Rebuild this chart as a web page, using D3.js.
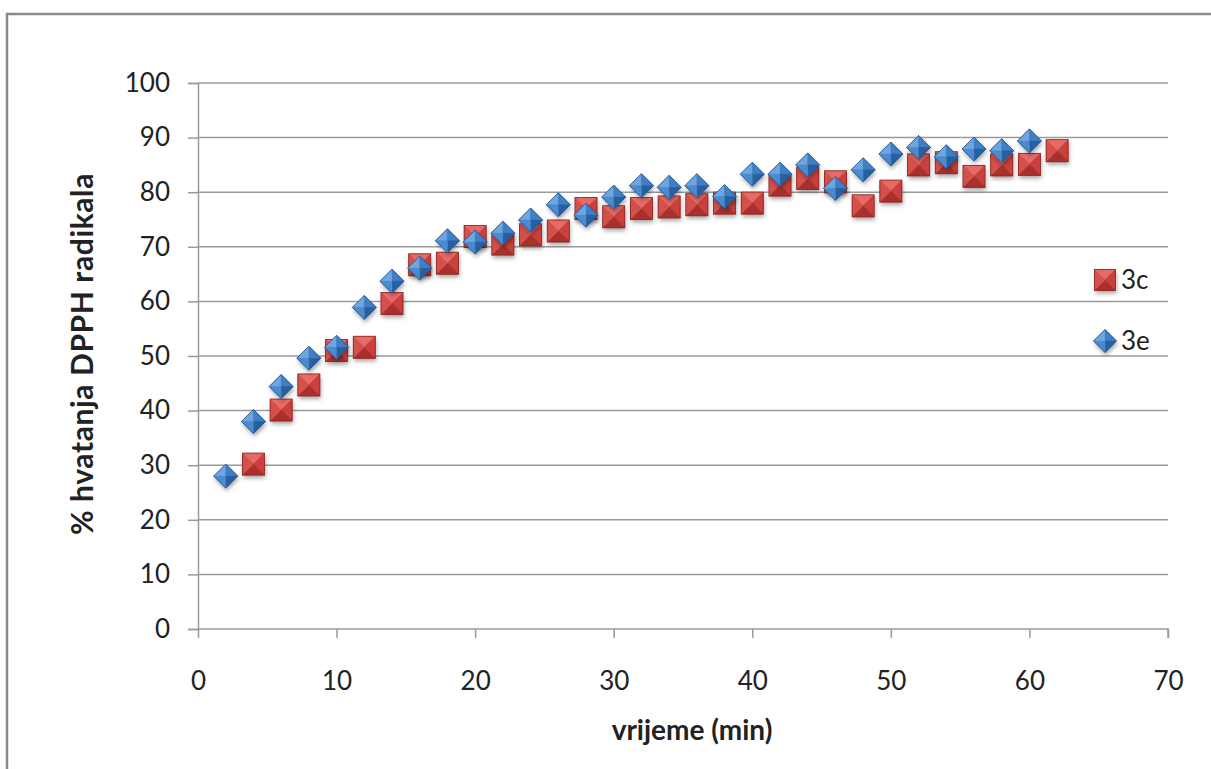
<!DOCTYPE html>
<html>
<head>
<meta charset="utf-8">
<script src="https://cdn.jsdelivr.net/npm/d3@7"></script>
<style>
  html, body { margin: 0; padding: 0; background: #fff; }
  svg { display: block; }
  text { font-family: Lato, "Open Sans", "Liberation Sans", sans-serif; fill: #222; }
</style>
</head>
<body>
<div id="chart"></div>
<script>
// podaci ocitani sa grafika
var x3c = [4, 6, 8, 10, 12, 14, 16, 18, 20, 22, 24, 26, 28, 30, 32, 34, 36, 38, 40, 42, 44, 46, 48, 50, 52, 54, 56, 58, 60, 62];
var y3c = [30.2, 40.1, 44.7, 51.0, 51.6, 59.6, 66.7, 67.0, 71.9, 70.5, 72.2, 72.9, 77.0, 75.5, 77.0, 77.3, 77.7, 78.0, 78.0, 81.3, 82.5, 81.9, 77.5, 80.2, 85.0, 85.4, 82.9, 85.0, 85.1, 87.6];
var x3e = [2, 4, 6, 8, 10, 12, 14, 16, 18, 20, 22, 24, 26, 28, 30, 32, 34, 36, 38, 40, 42, 44, 46, 48, 50, 52, 54, 56, 58, 60];
var y3e = [28.0, 38.0, 44.4, 49.6, 51.6, 58.9, 63.7, 66.1, 71.1, 70.9, 72.5, 74.9, 77.7, 75.8, 79.1, 81.2, 80.9, 81.2, 79.2, 83.3, 83.3, 85.0, 80.7, 84.1, 87.0, 88.2, 86.5, 87.9, 87.6, 89.4];
var xTicks = [0, 10, 20, 30, 40, 50, 60, 70];
var yTicks = [0, 10, 20, 30, 40, 50, 60, 70, 80, 90, 100];
var seriesNames = ["3c", "3e"];

var W = 1211, H = 769;
var svg = d3.select("#chart").append("svg").attr("width", W).attr("height", H);

var defs = svg.append("defs");
var f = defs.append("filter").attr("id", "sh").attr("x", "-50%").attr("y", "-50%").attr("width", "200%").attr("height", "200%");
f.append("feDropShadow").attr("dx", 1).attr("dy", 3).attr("stdDeviation", 2).attr("flood-color", "#000").attr("flood-opacity", 0.35);

// okvir
svg.append("path").attr("d", "M7," + H + " L7,14 L" + W + ",14")
  .attr("fill", "none").attr("stroke", "#8a8a8a").attr("stroke-width", 2.5);

var x = d3.scaleLinear().domain([0, 70]).range([198, 1168]);
var y = d3.scaleLinear().domain([0, 100]).range([629, 83]);

// mreza
svg.append("g").selectAll("line").data(yTicks.filter(function(d) { return d > 0; })).enter()
  .append("line")
  .attr("x1", x(0)).attr("x2", x(70))
  .attr("y1", function(d) { return y(d); }).attr("y2", function(d) { return y(d); })
  .attr("stroke", "#9a9a9a").attr("stroke-width", 1.5);

// y osa
var yAxis = svg.append("g").attr("transform", "translate(" + x(0) + ",0)")
  .call(d3.axisLeft(y).tickValues(yTicks).tickSize(10).tickPadding(18));
// x osa
var xAxis = svg.append("g").attr("transform", "translate(0," + y(0) + ")")
  .call(d3.axisBottom(x).tickValues(xTicks).tickSize(9).tickPadding(34));
[yAxis, xAxis].forEach(function(a) {
  a.select(".domain").attr("stroke", "#9a9a9a").attr("stroke-width", 1.5);
  a.selectAll(".tick line").attr("stroke", "#9a9a9a").attr("stroke-width", 1.5);
  a.selectAll(".tick text").attr("font-size", 26).attr("fill", "#222")
    .attr("font-family", "Lato, 'Open Sans', sans-serif");
});
xAxis.select(".domain").attr("d", "M" + x(0) + ",0H" + x(70) + "V9");

// naslovi osa
svg.append("text").attr("x", 692).attr("y", 740).attr("text-anchor", "middle")
  .attr("font-size", 28).attr("font-weight", "bold").text("vrijeme (min)");
svg.append("text").attr("transform", "translate(93,354) rotate(-90)").attr("text-anchor", "middle")
  .attr("font-size", 30).attr("font-weight", "bold").attr("letter-spacing", 0.6)
  .text("% hvatanja DPPH radikala");

// markeri
function square(g, s) {
  var h = s / 2;
  var cols = ["#e86a66", "#c9403c", "#a8302d", "#d4504b"]; // gore, desno, dole, lijevo
  var pts = [
    [[-h, -h], [h, -h], [0, 0]],
    [[h, -h], [h, h], [0, 0]],
    [[h, h], [-h, h], [0, 0]],
    [[-h, h], [-h, -h], [0, 0]]
  ];
  g.append("rect").attr("x", -h).attr("y", -h).attr("width", s).attr("height", s)
    .attr("fill", "#c0393a").attr("filter", "url(#sh)");
  pts.forEach(function(p, i) {
    g.append("path").attr("d", "M" + p.map(function(q) { return q.join(","); }).join("L") + "Z")
      .attr("fill", cols[i]).attr("stroke", cols[i]).attr("stroke-width", 0.3);
  });
  g.append("rect").attr("x", -h).attr("y", -h).attr("width", s).attr("height", s)
    .attr("fill", "none").attr("stroke", "#8e2423").attr("stroke-width", 0.8);
}
function diamond(g, s) {
  var h = s / 2;
  var cols = ["#6fa6e0", "#3f7fc4", "#285f9f", "#4a8bd0"]; // gore-lijevo, gore-desno, dole-desno, dole-lijevo
  var pts = [
    [[-h, 0], [0, -h], [0, 0]],
    [[0, -h], [h, 0], [0, 0]],
    [[h, 0], [0, h], [0, 0]],
    [[0, h], [-h, 0], [0, 0]]
  ];
  g.append("path").attr("d", "M0," + (-h) + "L" + h + ",0L0," + h + "L" + (-h) + ",0Z")
    .attr("fill", "#3a78bd").attr("filter", "url(#sh)");
  pts.forEach(function(p, i) {
    g.append("path").attr("d", "M" + p.map(function(q) { return q.join(","); }).join("L") + "Z")
      .attr("fill", cols[i]).attr("stroke", cols[i]).attr("stroke-width", 0.3);
  });
  g.append("path").attr("d", "M0," + (-h) + "L" + h + ",0L0," + h + "L" + (-h) + ",0Z")
    .attr("fill", "none").attr("stroke", "#24518a").attr("stroke-width", 0.8);
}

var data3c = x3c.map(function(d, i) { return { x: d, y: y3c[i] }; });
var data3e = x3e.map(function(d, i) { return { x: d, y: y3e[i] }; });

svg.append("g").selectAll("g").data(data3c).enter().append("g")
  .attr("transform", function(d) { return "translate(" + x(d.x) + "," + y(d.y) + ")"; })
  .each(function() { square(d3.select(this), 22); });
svg.append("g").selectAll("g").data(data3e).enter().append("g")
  .attr("transform", function(d) { return "translate(" + x(d.x) + "," + y(d.y) + ")"; })
  .each(function() { diamond(d3.select(this), 24); });

// legenda
var leg = svg.append("g");
var l1 = leg.append("g").attr("transform", "translate(1105,280)");
square(l1, 21);
leg.append("text").attr("x", 1121).attr("y", 289).attr("font-size", 26).text(seriesNames[0]);
var l2 = leg.append("g").attr("transform", "translate(1105,341)");
diamond(l2, 23);
leg.append("text").attr("x", 1121).attr("y", 350).attr("font-size", 26).text(seriesNames[1]);
</script>
</body>
</html>
